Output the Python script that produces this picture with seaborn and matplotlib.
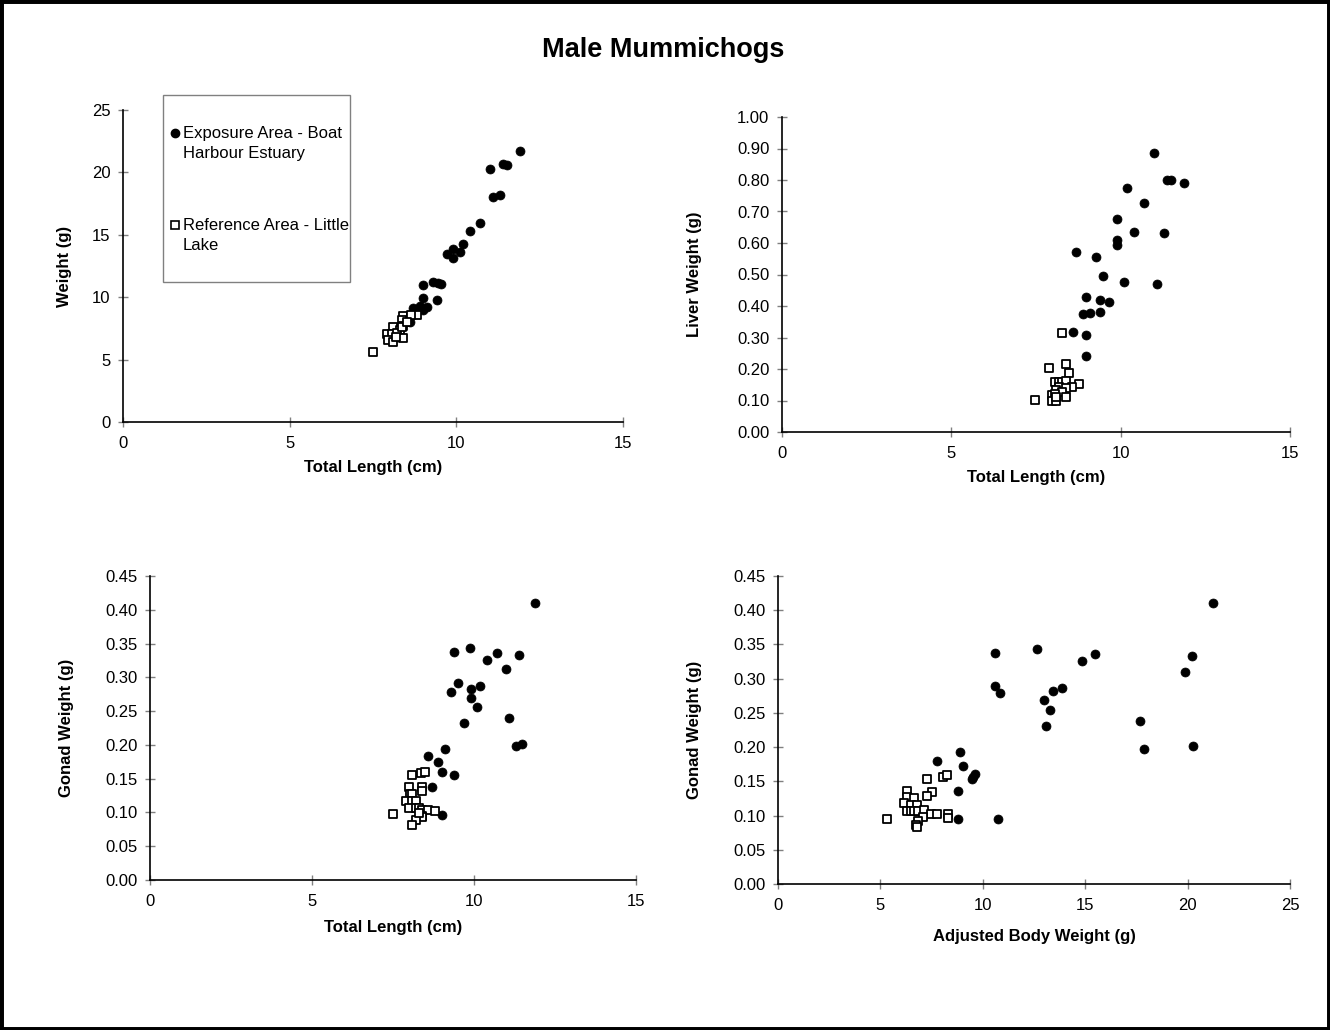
import matplotlib
matplotlib.use("Agg")
import matplotlib.pyplot as plt
from matplotlib.patches import Rectangle
from matplotlib.lines import Line2D
from matplotlib.ticker import FormatStrFormatter, MultipleLocator
import seaborn as sns

# ---- Weight vs total length ----
exp_len_w = [11.91, 11.01, 11.41, 11.51, 11.09, 11.31, 10.71, 10.41, 10.21, 9.91, 10.11, 9.71,
             9.91, 9.01, 9.31, 9.46, 9.53, 9.01, 9.41, 8.71, 8.91, 9.11, 9.01, 8.61]
exp_weight = [21.74, 20.25, 20.65, 20.60, 18.00, 18.19, 15.97, 15.30, 14.24, 13.84, 13.60, 13.44,
              13.12, 10.95, 11.24, 11.11, 11.03, 9.91, 9.78, 9.11, 9.32, 9.19, 8.97, 8.04]
ref_len_w = [7.51, 8.41, 8.81, 8.63, 8.36, 8.11, 8.41, 8.31, 7.91, 8.06, 8.21, 7.96, 8.11, 8.41,
             8.36, 8.51, 8.20]
ref_weight = [5.63, 8.52, 8.57, 8.57, 8.17, 7.64, 7.73, 7.37, 7.03, 7.03, 7.10, 6.57, 6.39, 6.72,
              7.64, 8.00, 6.80]

# ---- Liver weight vs total length ----
exp_len_l = [10.98, 11.36, 11.48, 11.87, 10.18, 10.68, 9.88, 10.38, 11.28, 9.88, 9.88, 8.68, 9.28,
             9.48, 10.09, 11.08, 8.99, 9.38, 9.67, 8.88, 9.08, 9.38, 8.58, 8.99, 8.99]
exp_liver = [0.885, 0.800, 0.799, 0.791, 0.776, 0.726, 0.675, 0.636, 0.631, 0.610, 0.594, 0.570,
             0.557, 0.495, 0.476, 0.470, 0.429, 0.420, 0.414, 0.375, 0.377, 0.381, 0.316, 0.309,
             0.241]
ref_len_l = [8.28, 7.88, 8.38, 8.47, 8.06, 8.18, 8.28, 8.38, 8.77, 8.57, 8.18, 8.38, 8.08, 8.28,
             7.47, 7.96, 8.06, 7.96, 8.08, 8.38, 8.08]
ref_liver = [0.315, 0.203, 0.217, 0.188, 0.160, 0.160, 0.160, 0.163, 0.151, 0.142, 0.142, 0.139,
             0.133, 0.128, 0.102, 0.117, 0.121, 0.099, 0.099, 0.110, 0.110]

# ---- Gonad weight vs total length ----
exp_len_g = [11.88, 9.39, 9.88, 10.39, 10.70, 11.39, 10.99, 9.50, 9.29, 9.90, 10.19, 9.90, 10.08,
             9.70, 11.09, 11.29, 11.49, 9.10, 8.59, 8.90, 9.00, 9.39, 8.69, 9.00]
exp_gonad_l = [0.410, 0.337, 0.343, 0.326, 0.336, 0.333, 0.312, 0.291, 0.279, 0.282, 0.287, 0.269,
               0.256, 0.233, 0.240, 0.199, 0.201, 0.194, 0.183, 0.174, 0.160, 0.155, 0.138, 0.096]
ref_len_g = [7.49, 8.10, 8.36, 8.49, 7.99, 8.38, 8.38, 8.02, 8.10, 7.89, 8.10, 8.20, 7.99, 8.20,
             8.30, 8.38, 8.59, 8.80, 8.38, 8.40, 8.20, 8.10, 8.30]
ref_gonad_l = [0.097, 0.155, 0.158, 0.160, 0.137, 0.137, 0.132, 0.128, 0.128, 0.117, 0.117, 0.117,
               0.106, 0.106, 0.106, 0.104, 0.104, 0.102, 0.095, 0.093, 0.089, 0.081, 0.099]

# ---- Gonad weight vs adjusted body weight ----
exp_abw = [10.58, 12.63, 10.60, 10.84, 13.44, 13.85, 13.00, 13.28, 13.07, 8.89, 7.78, 9.02, 9.62,
           9.54, 9.49, 8.77, 8.77, 10.76, 21.24, 15.48, 14.86, 20.20, 19.86, 17.66, 17.89, 20.28]
exp_gonad_w = [0.337, 0.343, 0.290, 0.279, 0.282, 0.287, 0.269, 0.254, 0.231, 0.193, 0.180, 0.172,
               0.160, 0.156, 0.153, 0.136, 0.095, 0.0945, 0.411, 0.336, 0.326, 0.333, 0.310,
               0.238, 0.197, 0.201]
ref_abw = [5.34, 7.29, 8.07, 8.24, 6.31, 7.53, 7.29, 6.31, 6.64, 6.15, 6.48, 6.79, 6.31, 6.48,
           6.64, 6.86, 7.13, 7.46, 7.75, 8.32, 8.32, 7.06, 6.85, 6.72, 6.77]
ref_gonad_w = [0.0955, 0.153, 0.157, 0.159, 0.136, 0.134, 0.129, 0.127, 0.125, 0.118, 0.115, 0.115,
               0.106, 0.106, 0.106, 0.107, 0.108, 0.103, 0.103, 0.102, 0.096, 0.098, 0.092, 0.086,
               0.083]

exposure_label = "Exposure Area - Boat\nHarbour Estuary"
reference_label = "Reference Area - Little\nLake"
title_text = "Male Mummichogs"

sns.set_style("white")
plt.rcParams["font.family"] = ["Liberation Sans", "DejaVu Sans"]
plt.rcParams["text.color"] = "black"
plt.rcParams["axes.labelcolor"] = "black"
plt.rcParams["xtick.color"] = "black"
plt.rcParams["ytick.color"] = "black"

W, H = 1330, 1030
fig = plt.figure(figsize=(W / 100, H / 100), dpi=100)
fig.patch.set_facecolor("white")


def px_axes(left, top, right, bottom):
    return fig.add_axes([left / W, 1 - bottom / H, (right - left) / W, (bottom - top) / H])


def panel(ax, ex, ey, rx, ry, xmax, xstep, ymax, ystep, yfmt, xlabel, ylabel, xpad, ypad):
    sns.scatterplot(x=ex, y=ey, ax=ax, marker="o", s=42, color="black",
                    edgecolor="black", linewidth=0.5, zorder=3, clip_on=False)
    sns.scatterplot(x=rx, y=ry, ax=ax, marker="s", s=34, color="white",
                    edgecolor="black", linewidth=1.3, zorder=4, clip_on=False)
    ax.set_xlim(0, xmax)
    ax.set_ylim(0, ymax)
    ax.xaxis.set_major_locator(MultipleLocator(xstep))
    ax.yaxis.set_major_locator(MultipleLocator(ystep))
    if yfmt:
        ax.yaxis.set_major_formatter(FormatStrFormatter(yfmt))
    for side in ("top", "right"):
        ax.spines[side].set_visible(False)
    for side in ("left", "bottom"):
        ax.spines[side].set_color("black")
        ax.spines[side].set_linewidth(1.2)
    ax.tick_params(bottom=True, left=True, top=False, right=False,
                   direction="inout", length=7, width=1, color="#808080",
                   labelsize=12, labelcolor="black")
    ax.tick_params(axis="x", pad=6.3)
    ax.tick_params(axis="y", pad=5.6)
    ax.set_xlabel(xlabel, fontsize=12, fontweight="bold", labelpad=xpad, color="black")
    ax.set_ylabel(ylabel, fontsize=12, fontweight="bold", labelpad=ypad, color="black")
    ax.set_facecolor("white")


ax1 = px_axes(123, 110, 623, 422)
panel(ax1, exp_len_w, exp_weight, ref_len_w, ref_weight, 15, 5, 25, 5, None,
      "Total Length (cm)", "Weight (g)", 6.5, 14)

ax2 = px_axes(782, 117, 1290, 432)
panel(ax2, exp_len_l, exp_liver, ref_len_l, ref_liver, 15, 5, 1.0, 0.1, "%.2f",
      "Total Length (cm)", "Liver Weight (g)", 6.5, 25)

ax3 = px_axes(150, 576, 636, 880)
panel(ax3, exp_len_g, exp_gonad_l, ref_len_g, ref_gonad_l, 15, 5, 0.45, 0.05, "%.2f",
      "Total Length (cm)", "Gonad Weight (g)", 8, 22)

ax4 = px_axes(778, 576, 1290, 884)
panel(ax4, exp_abw, exp_gonad_w, ref_abw, ref_gonad_w, 25, 5, 0.45, 0.05, "%.2f",
      "Adjusted Body Weight (g)", "Gonad Weight (g)", 11.5, 22)

# legend box in the upper left panel
fig.add_artist(Rectangle((163 / W, 1 - 282 / H), 187 / W, 187 / H, transform=fig.transFigure,
                         fill=True, facecolor="white", edgecolor="#808080", linewidth=1,
                         zorder=5))
fig.add_artist(Line2D([175 / W], [1 - 133 / H], transform=fig.transFigure, marker="o",
                      markersize=6, color="black", markeredgecolor="black", linestyle="none",
                      zorder=6))
fig.add_artist(Line2D([175 / W], [1 - 225 / H], transform=fig.transFigure, marker="s",
                      markersize=5.5, markerfacecolor="white", markeredgecolor="black",
                      markeredgewidth=1.2, linestyle="none", zorder=6))
fig.text(183 / W, 1 - 126 / H, exposure_label, fontsize=12, va="top", ha="left",
         linespacing=1.38, zorder=6, color="black")
fig.text(183 / W, 1 - 218 / H, reference_label, fontsize=12, va="top", ha="left",
         linespacing=1.38, zorder=6, color="black")

fig.text(663 / W, 1 - 50 / H, title_text, fontsize=19.5, fontweight="bold",
         ha="center", va="center", color="black")

# outer frame
fig.add_artist(Rectangle((0, 0), 1, 1, transform=fig.transFigure, fill=False,
                         edgecolor="black", linewidth=5, zorder=10))

fig.savefig("out.png", dpi=100, facecolor="white")
